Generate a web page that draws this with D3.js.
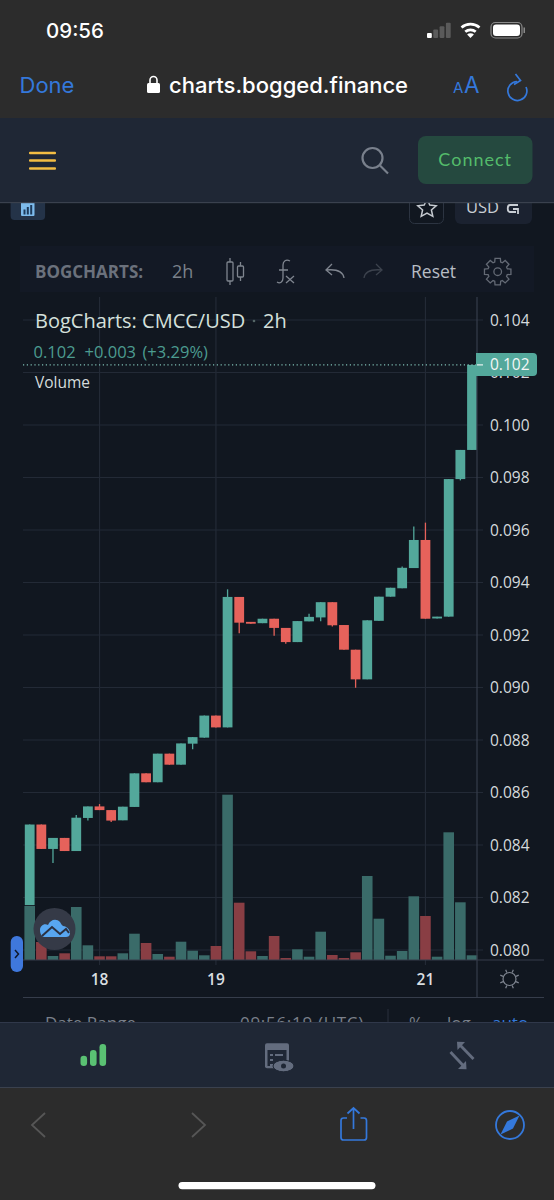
<!DOCTYPE html>
<html>
<head>
<meta charset="utf-8">
<script src="https://cdn.jsdelivr.net/npm/d3@7"></script>
<style>
html, body { margin: 0; padding: 0; background: #111720; }
svg { display: block; }
text { font-family: "Open Sans", sans-serif; }
</style>
</head>
<body>
<script>
// candles, one every 2h
var opens = [.08171,.08478,.08385,.08427,.08377,.08503,.08547,.08533,.08494,.08545,.08673,.08639,.08748,.08706,.08786,.08809,.08893,.08848,.09345,.09250,.09245,.09262,.09227,.09173,.09252,.09267,.09325,.09238,.09144,.09031,.09254,.09346,.09378,.09455,.09562,.09263,.09270,.09794,.09905];
var closes = [.08478,.08385,.08427,.08377,.08504,.08547,.08533,.08493,.08546,.08673,.08639,.08748,.08706,.08787,.08811,.08893,.08848,.09345,.09247,.09243,.09262,.09227,.09173,.09253,.09269,.09325,.09237,.09144,.09031,.09256,.09346,.09380,.09456,.09562,.09262,.09270,.09794,.09905,.10229];
var highs = [.08478,.08478,.08427,.08427,.08514,.08547,.08556,.08533,.08546,.08673,.08673,.08748,.08748,.08787,.08811,.08893,.08893,.09374,.09345,.09250,.09262,.09262,.09227,.09253,.09281,.09325,.09325,.09238,.09144,.09256,.09346,.09380,.09461,.09613,.09628,.09270,.09794,.09905,.10229];
var lows = [.08171,.08385,.08331,.08377,.08377,.08493,.08533,.08488,.08494,.08545,.08639,.08639,.08706,.08706,.08765,.08809,.08848,.08848,.09207,.09243,.09245,.09197,.09167,.09173,.09252,.09252,.09232,.09144,.08999,.09031,.09254,.09346,.09378,.09455,.09262,.09263,.09270,.09789,.09905];
var volumes = [54,18,4,6.7,53,14.7,3.7,3.7,6.7,26.3,17,6,3.3,18.3,9.3,4.7,14,165.3,57.3,8.7,4,24,2,10.7,3.3,28.3,5,2,7.7,84,41.3,4.3,9,63.7,44,3.3,127.7,57.7,4.7];

var priceTicks = [0.104,0.102,0.100,0.098,0.096,0.094,0.092,0.090,0.088,0.086,0.084,0.082,0.080];
var dayTickIndex = [6,16,34];
var dayTickLabels = ["18","19","21"];

var width = 554;
var height = 1200;
var plotLeft = 23;
var axisX = 477;
var plotRight = 544;
var volBase = 960;
var chartBottom = 997.5;

var up = "#53a89b";
var down = "#e6625b";
var upVol = "#3a6b69";
var downVol = "#893e44";
var gridCol = "#232a36";
var axisCol = "#363d4b";
var blue = "#3478db";
var navBg = "#1f2735";
var barBg = "#2c2c2c";

var svg = d3.select("body").append("svg")
    .attr("width", width)
    .attr("height", height);

svg.append("rect").attr("width", width).attr("height", height).attr("fill", "#111720");

// scales
var x = d3.scaleLinear().domain([0, 38]).range([29.7, 472]);
var y = d3.scaleLinear().domain([0.080, 0.104]).range([950, 320]);
var yVol = d3.scaleLinear().domain([0, 165.3]).range([volBase, 794.7]);

var idx = d3.range(opens.length);

// toolbar strip above the chart
svg.append("rect").attr("x", 20).attr("y", 246).attr("width", 514).attr("height", 46).attr("fill", "#131925");

// grid
svg.selectAll(".hgrid").data(priceTicks).enter().append("line")
    .attr("x1", plotLeft).attr("x2", axisX + 6)
    .attr("y1", function(d) { return y(d); })
    .attr("y2", function(d) { return y(d); })
    .attr("stroke", gridCol).attr("stroke-width", 1.2);

svg.selectAll(".vgrid").data(dayTickIndex).enter().append("line")
    .attr("x1", function(d) { return x(d); })
    .attr("x2", function(d) { return x(d); })
    .attr("y1", 297).attr("y2", volBase + 5)
    .attr("stroke", gridCol).attr("stroke-width", 1.2);

// price axis labels
svg.selectAll(".ptick").data(priceTicks).enter().append("text")
    .attr("x", 490)
    .attr("y", function(d) { return y(d) + 5.5; })
    .attr("font-size", 15.5)
    .attr("fill", "#d5dadd")
    .text(function(d) { return d3.format(".3f")(d); });

// candles
svg.selectAll(".wick").data(idx).enter().append("line")
    .attr("x1", function(i) { return x(i); })
    .attr("x2", function(i) { return x(i); })
    .attr("y1", function(i) { return y(highs[i]); })
    .attr("y2", function(i) { return y(lows[i]); })
    .attr("stroke", function(i) { return closes[i] >= opens[i] ? up : down; })
    .attr("stroke-width", 1.3);

svg.selectAll(".body").data(idx).enter().append("rect")
    .attr("x", function(i) { return x(i) - 4.9; })
    .attr("width", 9.8)
    .attr("y", function(i) { return y(Math.max(opens[i], closes[i])); })
    .attr("height", function(i) { return Math.max(1.5, Math.abs(y(opens[i]) - y(closes[i]))); })
    .attr("fill", function(i) { return closes[i] >= opens[i] ? up : down; });

// volume
svg.selectAll(".vol").data(idx).enter().append("rect")
    .attr("x", function(i) { return x(i) - 5.3; })
    .attr("width", 10.6)
    .attr("y", function(i) { return yVol(volumes[i]); })
    .attr("height", function(i) { return volBase - yVol(volumes[i]); })
    .attr("fill", function(i) { return closes[i] >= opens[i] ? upVol : downVol; });

// axes lines
svg.append("line").attr("x1", axisX).attr("x2", axisX).attr("y1", 297).attr("y2", chartBottom).attr("stroke", axisCol).attr("stroke-width", 1.2);
svg.append("line").attr("x1", plotLeft).attr("x2", plotRight).attr("y1", volBase).attr("y2", volBase).attr("stroke", axisCol).attr("stroke-width", 1.2);
svg.append("line").attr("x1", plotLeft).attr("x2", plotRight).attr("y1", chartBottom).attr("y2", chartBottom).attr("stroke", axisCol).attr("stroke-width", 1.2);

svg.selectAll(".dtick").data(dayTickIndex).enter().append("text")
    .attr("x", function(d) { return x(d); })
    .attr("y", 985)
    .attr("text-anchor", "middle")
    .attr("font-size", 15.5)
    .attr("font-weight", 600)
    .attr("fill", "#d9dee0")
    .text(function(d, i) { return dayTickLabels[i]; });

// last price line and badge
var lastY = y(closes[closes.length - 1]);
svg.append("line").attr("x1", plotLeft).attr("x2", axisX + 6).attr("y1", lastY).attr("y2", lastY)
    .attr("stroke", "#7fc0b5").attr("stroke-width", 1.2).attr("stroke-dasharray", "1.2 2.6");
svg.append("path")
    .attr("d", "M476," + (lastY - 12) + "h57a4,4 0 0 1 4,4v15a4,4 0 0 1 -4,4h-57z")
    .attr("fill", up);
svg.append("line").attr("x1", 477).attr("x2", 483).attr("y1", lastY).attr("y2", lastY).attr("stroke", "#e8f3f1").attr("stroke-width", 1.2);
svg.append("text").attr("x", 490).attr("y", lastY + 5.5).attr("font-size", 15.5).attr("fill", "#f2f6f5")
    .text(d3.format(".3f")(closes[closes.length - 1]));

// legend
svg.append("text").attr("x", 35).attr("y", 328).attr("font-size", 20).attr("fill", "#d5e0dc").text("BogCharts: CMCC/USD");
svg.append("circle").attr("cx", 254).attr("cy", 321).attr("r", 1.3).attr("fill", "#566");
svg.append("text").attr("x", 263).attr("y", 328).attr("font-size", 20).attr("fill", "#d5e0dc").text("2h");
svg.append("text").attr("x", 33.5).attr("y", 358).attr("font-size", 16.5).attr("fill", "#4c9c90").text("0.102");
svg.append("text").attr("x", 84.5).attr("y", 358).attr("font-size", 16.5).attr("fill", "#4c9c90").text("+0.003");
svg.append("text").attr("x", 142.5).attr("y", 358).attr("font-size", 16.5).attr("fill", "#4c9c90").text("(+3.29%)");
svg.append("text").attr("x", 35).attr("y", 388).attr("font-size", 15.5).attr("fill", "#d5dcdc").text("Volume");

// toolbar text
svg.append("text").attr("x", 35).attr("y", 278).attr("font-size", 17).attr("font-weight", 700).attr("fill", "#6b717c").text("BOGCHARTS:");
svg.append("text").attr("x", 172).attr("y", 278).attr("font-size", 18).attr("fill", "#7b818b").text("2h");
svg.append("text").attr("x", 411).attr("y", 278).attr("font-size", 17.5).attr("fill", "#b8bdc4").text("Reset");

// toolbar icons
var tb = svg.append("g").attr("fill", "none").attr("stroke", "#7f858f").attr("stroke-width", 1.3);
tb.append("rect").attr("x", 227).attr("y", 262).attr("width", 6).attr("height", 19).attr("rx", 1);
tb.append("path").attr("d", "M230,258v4M230,281v4M240.5,262v4M240.5,277v4");
tb.append("rect").attr("x", 237.5).attr("y", 266).attr("width", 6).attr("height", 11).attr("rx", 1);
tb.append("path").attr("d", "M277,282c3,2 6,0 6,-4v-13c0,-4 3,-6 7,-4M279,270h9M286,276l8,7M294,276l-8,7");
tb.append("path").attr("d", "M332,264l-6,6 6,5M326,270c10,-1 17,1 18,8");
tb.append("path").attr("stroke", "#3c424d").attr("d", "M376,264l6,6 -6,5M382,270c-10,-1 -17,1 -18,8");

// gear outline
var gearPts = [];
d3.range(8).forEach(function(i) {
    var a = i * Math.PI / 4;
    [[-0.3, 10], [-0.2, 13.5], [0.2, 13.5], [0.3, 10]].forEach(function(p) {
        gearPts.push([497.7 + p[1] * Math.cos(a + p[0]), 271.7 + p[1] * Math.sin(a + p[0])]);
    });
});
tb.append("path").attr("stroke", "#646a75").attr("d", d3.line().curve(d3.curveLinearClosed)(gearPts));
tb.append("circle").attr("stroke", "#646a75").attr("cx", 497.7).attr("cy", 271.7).attr("r", 3.8);

// strip under the header
svg.append("rect").attr("x", 10.6).attr("y", 196).attr("width", 34.5).attr("height", 24).attr("rx", 4).attr("fill", "#243348");
svg.append("rect").attr("x", 21).attr("y", 200).attr("width", 13.5).attr("height", 16).attr("rx", 1).attr("fill", "#7dbbec");
[[23.5, 209.5, 2, 5], [26.8, 207, 2, 7.5], [30.2, 205, 2, 9.5]].forEach(function(b) {
    svg.append("rect").attr("x", b[0]).attr("y", b[1]).attr("width", b[2]).attr("height", b[3]).attr("fill", "#1d3a5a");
});
svg.append("rect").attr("x", 409.5).attr("y", 194).attr("width", 34).attr("height", 29.5).attr("rx", 5).attr("fill", "none").attr("stroke", "#2c3441");
svg.append("rect").attr("x", 455).attr("y", 194).attr("width", 77).attr("height", 30).attr("rx", 6).attr("fill", "#1b2230");
svg.append("text").attr("x", 466).attr("y", 212.7).attr("font-size", 16.5).attr("fill", "#c9ced4").text("USD");
svg.append("path").attr("d", "M518,205h-8c-3,0 -3,7 0,7h6M513,209h5v5").attr("fill", "none").attr("stroke", "#c9ced4").attr("stroke-width", 1.8);
svg.append("path").attr("d", "M427,199l2.8,6 6.4,.7 -4.8,4.3 1.4,6.3 -5.8,-3.3 -5.8,3.3 1.4,-6.3 -4.8,-4.3 6.4,-.7z").attr("fill", "none").attr("stroke", "#c6cbd1").attr("stroke-width", 1.5);

// page header
svg.append("rect").attr("x", 0).attr("y", 118).attr("width", width).attr("height", 84).attr("fill", navBg);
svg.append("rect").attr("x", 0).attr("y", 202).attr("width", width).attr("height", 1.2).attr("fill", "#3a414e");

[153, 160.5, 168.5].forEach(function(d) {
    svg.append("rect").attr("x", 29).attr("y", d - 1.3).attr("width", 27).attr("height", 2.6).attr("rx", 1).attr("fill", "#f3bd43");
});
svg.append("circle").attr("cx", 372.5).attr("cy", 158).attr("r", 10).attr("fill", "none").attr("stroke", "#79808c").attr("stroke-width", 2.2);
svg.append("line").attr("x1", 380).attr("x2", 388).attr("y1", 165.5).attr("y2", 173.5).attr("stroke", "#79808c").attr("stroke-width", 2.2);
svg.append("rect").attr("x", 418).attr("y", 136).attr("width", 114.5).attr("height", 48).attr("rx", 8).attr("fill", "#25493f");
svg.append("text").attr("x", 475.2).attr("y", 166).attr("text-anchor", "middle").attr("font-size", 18).attr("letter-spacing", 1).attr("fill", "#54bc6b").style("font-family", "Lato").text("Connect");

// status and address bar
svg.append("rect").attr("width", width).attr("height", 118).attr("fill", barBg);
svg.append("text").attr("x", 46).attr("y", 38).attr("font-size", 20.5).attr("font-weight", 500).attr("fill", "#fff").style("font-family", "Inter").text("09:56");

// signal bars
[0,1,2,3].forEach(function(i) {
    var h = 5 + i * 3.4;
    svg.append("rect").attr("x", 427 + i * 6.3).attr("y", 38 - h).attr("width", 4.8).attr("height", h).attr("rx", 1)
        .attr("fill", i == 0 ? "#fff" : "#5a5a5a");
});
// wifi
var wifi = svg.append("g").attr("fill", "none").attr("stroke", "#fff").attr("stroke-width", 2.8);
wifi.append("path").attr("d", "M461.5,27.5a14,14 0 0 1 18,0");
wifi.append("path").attr("d", "M465.3,31.7a8,8 0 0 1 10.4,0");
svg.append("path").attr("d", "M470.5,38l-3.4,-3.4a4.8,4.8 0 0 1 6.8,0z").attr("fill", "#fff");
// battery
svg.append("rect").attr("x", 491).attr("y", 22.5).attr("width", 31).attr("height", 15.5).attr("rx", 4.5).attr("fill", "none").attr("stroke", "#8a8a8a").attr("stroke-width", 1.2);
svg.append("rect").attr("x", 493).attr("y", 24.5).attr("width", 27).attr("height", 11.5).attr("rx", 3).attr("fill", "#fff");
svg.append("rect").attr("x", 523.5).attr("y", 27.5).attr("width", 1.5).attr("height", 5.5).attr("fill", "#8a8a8a");

svg.append("text").attr("x", 19.5).attr("y", 93).attr("font-size", 22).attr("fill", blue).style("font-family", "Inter").text("Done");
svg.append("text").attr("x", 169).attr("y", 93).attr("font-size", 22).attr("font-weight", 500).attr("fill", "#fff").style("font-family", "Inter").text("charts.bogged.finance");
// lock
svg.append("rect").attr("x", 147).attr("y", 83).attr("width", 13).attr("height", 10).attr("rx", 1.5).attr("fill", "#fff");
svg.append("path").attr("d", "M150,83v-3a3.5,3.5 0 0 1 7,0v3").attr("fill", "none").attr("stroke", "#fff").attr("stroke-width", 1.6);
svg.append("text").attr("x", 453).attr("y", 93).attr("font-size", 15).attr("fill", blue).style("font-family", "Inter").text("A");
svg.append("text").attr("x", 464).attr("y", 93).attr("font-size", 22.5).attr("fill", blue).style("font-family", "Inter").text("A");
// reload
svg.append("path").attr("d", "M517,81.5a9.5,9.5 0 1 0 9,5.5").attr("fill", "none").attr("stroke", blue).attr("stroke-width", 1.7);
svg.append("path").attr("d", "M515.5,74l5,6.5 -6.5,4").attr("fill", "none").attr("stroke", blue).attr("stroke-width", 1.7);

// tradingview logo and side handle
svg.append("circle").attr("cx", 54.5).attr("cy", 929).attr("r", 21).attr("fill", "#353a47");
svg.append("path").attr("d", "M40,930c0,-4 4,-7 8,-5c2,-5 8,-7 12,-3c1,2 2,3 3,4c4,0 7,4 7,7c0,3 -2,4 -4,4h-22c-2,0 -4,-3 -4,-7z").attr("fill", "#58a6f0");
svg.append("path").attr("d", "M42,936l10,-9 8,7 6,-5 3,4").attr("fill", "none").attr("stroke", "#2b3040").attr("stroke-width", 2);
svg.append("rect").attr("x", 10.7).attr("y", 936).attr("width", 12.3).attr("height", 36).attr("rx", 6).attr("fill", "#3f78dc");
svg.append("path").attr("d", "M15,950l3.5,4 -3.5,4").attr("fill", "none").attr("stroke", "#10182a").attr("stroke-width", 1.5);

// sun icon under the axis
svg.append("circle").attr("cx", 509.5).attr("cy", 979).attr("r", 6.5).attr("fill", "none").attr("stroke", "#7f8590").attr("stroke-width", 1.2);
d3.range(8).forEach(function(i) {
    var a = i * Math.PI / 4 + Math.PI / 8;
    svg.append("line").attr("x1", 509.5 + 7 * Math.cos(a)).attr("y1", 979 + 7 * Math.sin(a))
        .attr("x2", 509.5 + 10 * Math.cos(a)).attr("y2", 979 + 10 * Math.sin(a)).attr("stroke", "#7f8590").attr("stroke-width", 1.2);
});

// clipped date range row
var row = svg.append("g").attr("fill", "#7a808a").attr("font-size", 17);
row.append("text").attr("x", 45).attr("y", 1029).text("Date Range");
row.append("text").attr("x", 240).attr("y", 1029).attr("letter-spacing", 0.7).text("09:56:19 (UTC)");
row.append("text").attr("x", 409).attr("y", 1029).text("%");
row.append("text").attr("x", 447).attr("y", 1029).text("log");
row.append("text").attr("x", 492).attr("y", 1029).attr("fill", blue).text("auto");
svg.append("line").attr("x1", 388).attr("x2", 388).attr("y1", 1009).attr("y2", 1022).attr("stroke", "#2a303c");

// bottom nav
svg.append("rect").attr("x", 0).attr("y", 1022).attr("width", width).attr("height", 66).attr("fill", navBg);
svg.append("rect").attr("x", 0).attr("y", 1022).attr("width", width).attr("height", 1).attr("fill", "#30384a");
svg.append("rect").attr("x", 0).attr("y", 1087).attr("width", width).attr("height", 1.2).attr("fill", "#3a414e");

[[80.5, 1055.7], [90, 1050], [99.5, 1044]].forEach(function(b) {
    svg.append("rect").attr("x", b[0]).attr("y", b[1]).attr("width", 6.6).attr("height", 1066 - b[1]).attr("rx", 3.2).attr("fill", "#5ac173");
});
svg.append("rect").attr("x", 265).attr("y", 1043.3).attr("width", 24).attr("height", 25).attr("rx", 2).attr("fill", "#636c7e");
svg.append("rect").attr("x", 267.5).attr("y", 1050).attr("width", 19).attr("height", 16).attr("fill", navBg);
svg.append("path").attr("d", "M270,1055h3M275,1055h8M270,1060h3M270,1065h3").attr("stroke", "#636c7e").attr("stroke-width", 2);
svg.append("ellipse").attr("cx", 283.5).attr("cy", 1066).attr("rx", 10.5).attr("ry", 5.8).attr("fill", "#636c7e").attr("stroke", navBg).attr("stroke-width", 1);
svg.append("circle").attr("cx", 283.5).attr("cy", 1066).attr("r", 2.5).attr("fill", navBg);
svg.append("g").attr("fill", "none").attr("stroke", "#636c7e").attr("stroke-width", 2.8)
    .selectAll("path").data(["M459,1044l14.5,15", "M450.5,1052l14,15"]).enter().append("path").attr("d", function(d) { return d; });
svg.append("path").attr("d", "M457,1041.7l8,.3 -7.5,8z").attr("fill", "#636c7e");
svg.append("path").attr("d", "M466.5,1069.3l-8.5,-.3 8,-8z").attr("fill", "#636c7e");

// safari toolbar
svg.append("rect").attr("x", 0).attr("y", 1088).attr("width", width).attr("height", 112).attr("fill", barBg);
svg.append("path").attr("d", "M45,1113l-13,12 13,12").attr("fill", "none").attr("stroke", "#565656").attr("stroke-width", 1.8);
svg.append("path").attr("d", "M192,1113l13,12 -13,12").attr("fill", "none").attr("stroke", "#565656").attr("stroke-width", 1.8);
svg.append("path").attr("d", "M347,1118h-3.5a2.5,2.5 0 0 0 -2.5,2.5v17a2.5,2.5 0 0 0 2.5,2.5h20.5a2.5,2.5 0 0 0 2.5,-2.5v-17a2.5,2.5 0 0 0 -2.5,-2.5h-3.5M353.5,1129v-21M347.5,1113.5l6,-5.5 6,5.5").attr("fill", "none").attr("stroke", blue).attr("stroke-width", 1.7);
svg.append("circle").attr("cx", 510).attr("cy", 1125).attr("r", 14).attr("fill", "none").attr("stroke", blue).attr("stroke-width", 1.8);
svg.append("path").attr("d", "M519.5,1115.5l-6.5,13 -12.5,6 6.5,-13z").attr("fill", blue);
svg.append("rect").attr("x", 178.5).attr("y", 1182).attr("width", 197).attr("height", 7.2).attr("rx", 3.6).attr("fill", "#fff");
</script>
</body>
</html>
